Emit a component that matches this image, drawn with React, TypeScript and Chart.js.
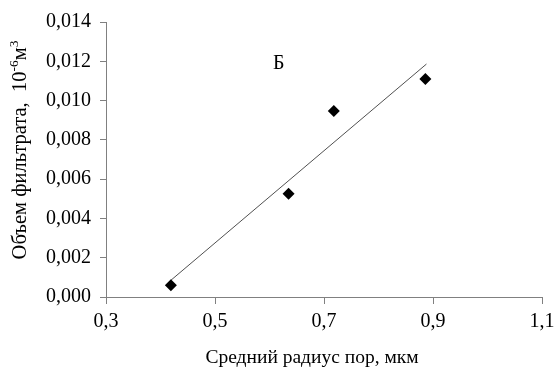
import React, { useEffect, useRef } from "react";
import { Chart, registerables } from "chart.js";

Chart.register(...registerables);

const radiusValues = [0.419, 0.635, 0.718, 0.886];
const volumeValues = [0.0006, 0.00526, 0.00947, 0.0111];
const trendX = [0.419, 0.888];
const trendY = [0.00085, 0.01186];
const xTicks = [0.3, 0.5, 0.7, 0.9, 1.1];
const yTicks = [0, 0.002, 0.004, 0.006, 0.008, 0.01, 0.012, 0.014];
const labelText = "Б";
const labelX = 0.617;
const labelY = 0.0119;
const xTitle = "Средний радиус пор, мкм";
// y title as [text, isSuperscript] parts
const yTitleParts: [string, boolean][] = [
  ["Объем фильтрата,  10", false],
  ["-6", true],
  ["м", false],
  ["3", true],
];

const FONT = "'Liberation Serif', 'Times New Roman', serif";

export default function App() {
  const ref = useRef<HTMLCanvasElement>(null);
  useEffect(() => {
    if (!ref.current) return;
    const labelPlugin = {
      id: "letterLabel",
      afterDraw(chart: any) {
        const { ctx, scales } = chart;
        ctx.save();
        ctx.fillStyle = "#000";
        ctx.font = `20px ${FONT}`;
        ctx.textAlign = "center";
        ctx.textBaseline = "middle";
        ctx.fillText(labelText, scales.x.getPixelForValue(labelX), scales.y.getPixelForValue(labelY));

        // x title
        ctx.font = `19.5px ${FONT}`;
        ctx.textAlign = "center";
        ctx.textBaseline = "alphabetic";
        ctx.fillText(xTitle, 312, 363);

        // y title (rotated, with superscripts)
        const mainFont = `20.5px ${FONT}`;
        const supFont = `13.5px ${FONT}`;
        let total = 0;
        for (const [t, sup] of yTitleParts) {
          ctx.font = sup ? supFont : mainFont;
          total += ctx.measureText(t).width;
        }
        ctx.translate(26, 150);
        ctx.rotate(-Math.PI / 2);
        ctx.textAlign = "left";
        let x = -total / 2;
        for (const [t, sup] of yTitleParts) {
          ctx.font = sup ? supFont : mainFont;
          ctx.fillText(t, x, sup ? -8 : 0);
          x += ctx.measureText(t).width;
        }
        ctx.restore();
      },
    };
    const chart = new Chart(ref.current, {
      type: "scatter",
      data: {
        datasets: [
          {
            data: radiusValues.map((x, i) => ({ x, y: volumeValues[i] })),
            pointStyle: "rectRot",
            pointRadius: 6,
            backgroundColor: "#000",
            borderColor: "#000",
            borderWidth: 0,
          },
          {
            type: "line",
            data: trendX.map((x, i) => ({ x, y: trendY[i] })),
            borderColor: "#505050",
            borderWidth: 1,
            pointRadius: 0,
            showLine: true,
          } as any,
        ],
      },
      options: {
        animation: false,
        responsive: false,
        maintainAspectRatio: false,
        layout: { padding: { left: 0, top: 22, right: 13, bottom: 0 } },
        plugins: { legend: { display: false }, tooltip: { enabled: false } },
        scales: {
          x: {
            type: "linear",
            min: 0.3,
            max: 1.1,
            afterBuildTicks: (s: any) => {
              s.ticks = xTicks.map((v) => ({ value: v }));
            },
            afterFit: (s: any) => {
              s.height = 72;
              s.paddingLeft = 0;
              s.paddingRight = 0;
            },
            ticks: {
              color: "#000",
              font: { family: FONT, size: 20 },
              padding: 6,
              maxRotation: 0,
              callback: (v: any) => Number(v).toFixed(1).replace(".", ","),
            },
            grid: { drawOnChartArea: false, tickLength: 7, color: "#808080" },
            border: { color: "#808080", width: 1 },
            title: { display: false },
          },
          y: {
            type: "linear",
            min: 0,
            max: 0.014,
            afterBuildTicks: (s: any) => {
              s.ticks = yTicks.map((v) => ({ value: v }));
            },
            afterFit: (s: any) => {
              s.width = 106;
              s.paddingTop = 0;
              s.paddingBottom = 0;
            },
            ticks: {
              color: "#000",
              font: { family: FONT, size: 20 },
              padding: 9,
              callback: (v: any) => Number(v).toFixed(3).replace(".", ","),
            },
            grid: { drawOnChartArea: false, tickLength: 6, color: "#808080" },
            border: { color: "#808080", width: 1 },
            title: { display: false },
          },
        },
      },
      plugins: [labelPlugin],
    } as any);
    return () => chart.destroy();
  }, []);
  return (
    <div style={{ position: "fixed", left: 0, top: 0, width: 555, height: 369, background: "#fff" }}>
      <canvas ref={ref} width={555} height={369} />
    </div>
  );
}
